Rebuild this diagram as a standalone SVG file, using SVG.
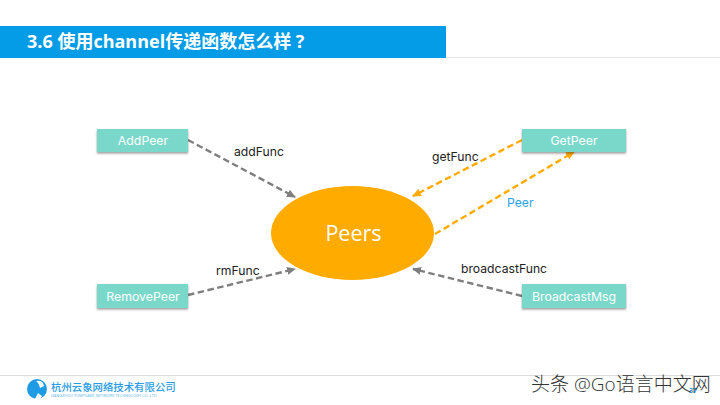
<svg xmlns="http://www.w3.org/2000/svg" width="720" height="405" viewBox="0 0 720 405">
<style>
text{font-family:"Open Sans","Liberation Sans","Noto Sans CJK SC",sans-serif}
.box{fill:#7ad8cb;filter:url(#sh)}
.bt{font-family:"Inter","Liberation Sans",sans-serif;font-size:12.3px;fill:#fff;text-anchor:middle}
.lb{font-family:"Inter","Liberation Sans",sans-serif;font-size:12.2px;fill:#222}
.g{fill:none;stroke:#7f7f7f;stroke-width:2.4;stroke-dasharray:6.500 3.500;marker-end:url(#ag)}
.o{fill:none;stroke:#ffab00;stroke-width:2.4;stroke-dasharray:6.500 3.500;marker-end:url(#ao)}
</style>
<defs>
<filter id="sh" x="-5%" y="-15%" width="110%" height="140%"><feDropShadow dx="0" dy="1.500" stdDeviation="1" flood-color="#000" flood-opacity="0.4"/></filter>
<marker id="ag" markerWidth="9" markerHeight="8" refX="8" refY="4" orient="auto" markerUnits="userSpaceOnUse"><path d="M0 0L9 4L0 8z" fill="#7f7f7f"/></marker>
<marker id="ao" markerWidth="9" markerHeight="8" refX="8" refY="4" orient="auto" markerUnits="userSpaceOnUse"><path d="M0 0L9 4L0 8z" fill="#ffab00"/></marker>
</defs>
<rect width="720" height="405" fill="#fff"/>
<g id="header">
<rect x="446" y="57" width="274" height="1" fill="#e4e4e4"/>
<rect x="0" y="26" width="446" height="32" fill="#049ce6"/>
<text x="27" y="48" font-size="18" font-weight="700" fill="#fff" font-family="'Open Sans','Noto Sans CJK SC',sans-serif">3.6 使用channel传递函数怎么样 ?</text>
</g>
<g id="connectors">
<path class="g" d="M188 140L295 197"/>
<path class="g" d="M188 295L295 269"/>
<path class="g" d="M522 296L413 269"/>
<path class="o" d="M522 140L413 196"/>
<path class="o" d="M435 234L574 152"/>
</g>
<g id="peers">
<ellipse cx="352.500" cy="233" rx="81.500" ry="47" fill="#ffab00"/>
<text x="353.500" y="241" font-size="21.500" fill="#fff" text-anchor="middle" font-family="Inter,'Liberation Sans',sans-serif">Peers</text>
</g>
<g id="addpeer"><rect class="box" x="97" y="129" width="91" height="23"/><text class="bt" x="143" y="145">AddPeer</text></g>
<g id="removepeer"><rect class="box" x="97" y="284" width="91" height="24"/><text class="bt" x="143" y="301">RemovePeer</text></g>
<g id="getpeer"><rect class="box" x="522" y="129" width="104" height="23"/><text class="bt" x="574" y="145">GetPeer</text></g>
<g id="broadcastmsg"><rect class="box" x="522" y="284" width="104" height="24"/><text class="bt" x="574" y="301">BroadcastMsg</text></g>
<g id="labels">
<text class="lb" x="234" y="156">addFunc</text>
<text class="lb" x="216" y="275">rmFunc</text>
<text class="lb" x="432" y="161">getFunc</text>
<text class="lb" x="507" y="207" style="fill:#2ba3e8">Peer</text>
<text class="lb" x="461" y="273">broadcastFunc</text>
</g>
<g id="footer">
<rect x="0" y="375" width="720" height="1" fill="#dcdcdc"/>
<circle cx="37" cy="389" r="10" fill="#1f9be6"/>
<path d="M36 381q7-1 8 5l-4 2q-1-5-4-7z" fill="#fff"/>
<path d="M35 399l3-6 4 3-2 3z" fill="#fff"/>
<text x="51" y="391" font-size="10.400" font-weight="500" fill="#2a9de6" font-family="'Noto Sans CJK SC',sans-serif">杭州云象网络技术有限公司</text>
<text x="51" y="397" font-size="3.900" fill="#5bb5ea" font-family="'Liberation Sans',sans-serif">HANGZHOU YUNPHANT NETWORK TECHNOLOGY CO. LTD</text>
<text x="689" y="393" font-size="7" font-weight="700" fill="#2a9de6" font-family="'Liberation Sans',sans-serif">37</text>
<text x="531" y="391" font-size="19" font-weight="300" fill="#333" font-family="'Noto Sans CJK SC',sans-serif">头条 @Go语言中文网</text>
</g>
</svg>
